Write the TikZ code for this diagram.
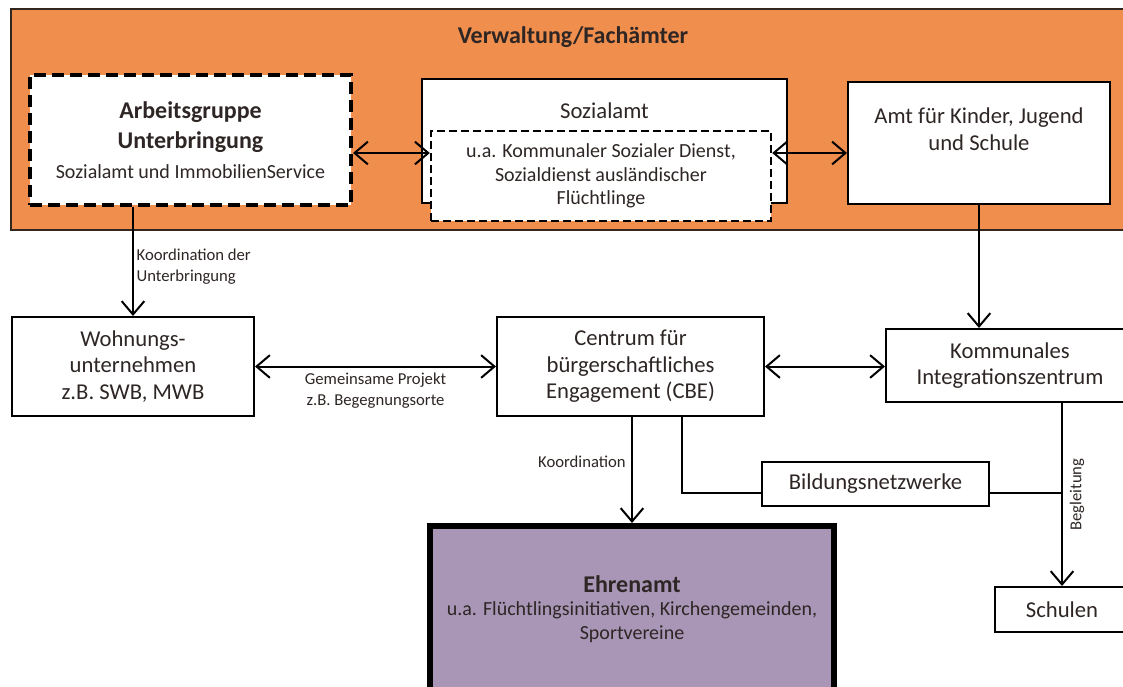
\documentclass[tikz,border=0pt]{standalone}
\usepackage{fontspec}
\setmainfont{Carlito}
\usetikzlibrary{arrows.meta, positioning}
\definecolor{amtorange}{RGB}{240,142,78}
\definecolor{ehrenlila}{RGB}{169,149,181}
\definecolor{rahmen}{RGB}{50,38,30}
\definecolor{schrift}{RGB}{45,38,36}
\newcommand\kopf{\bfseries\fontsize{18}{22.5}\selectfont}
\newcommand\klein{\mdseries\fontsize{15}{17.6}\selectfont}

\begin{document}
\begin{tikzpicture}[x=0.75pt, y=-0.75pt, line width=1.5pt,
    box/.style={draw, rectangle, fill=white, align=center, text=schrift, font=\fontsize{17}{20}\selectfont},
    strichbox/.style={box, dash pattern=on 6pt off 3pt, line width=1.8pt, font=\klein},
    boxtitel/.style={text=schrift, align=center, font=\fontsize{17}{20}\selectfont},
    notiz/.style={text=schrift, align=left, inner sep=2pt, font=\fontsize{12.5}{15.5}\selectfont},
    pfeil/.style={-{Straight Barb[length=10pt, width=17pt]}},
    doppelpfeil/.style={{Straight Barb[length=10pt, width=17pt]}-{Straight Barb[length=10pt, width=17pt]}}]

  % Hintergrund und Rahmen Verwaltung
  \path[use as bounding box, fill=white] (0,0) rectangle (1123,686);
  \node[draw=rahmen, line width=2pt, fill=amtorange, minimum width=843pt, minimum height=165.75pt] (verwaltung) at (573,119.5) {};
  \node[text=schrift, font=\kopf] (titel) at (573,37) {Verwaltung/Fachämter};

  % obere Reihe
  \node[box, font=\kopf, dash pattern=on 9pt off 4.5pt, line width=3pt, minimum width=240.75pt, minimum height=97.5pt] (arbeit) at (190.5,140)
    {Arbeitsgruppe\\Unterbringung\\{\klein Sozialamt und ImmobilienService}};
  \node[box, minimum width=273.75pt, minimum height=93pt] (sozial) at (604.5,141) {};
  \node[boxtitel] (sozialtitel) at (604.5,111) {Sozialamt};
  \node[strichbox, minimum width=255pt, minimum height=67.5pt] (sozialdienst) at (601,176)
    {u.a. Kommunaler Sozialer Dienst,\\Sozialdienst ausländischer\\Flüchtlinge};
  \node[box, minimum width=196.5pt, minimum height=91.5pt] (amt) at (979,143) {};
  \node[boxtitel] (amttext) at (979,129) {Amt für Kinder, Jugend\\und Schule};

  % mittlere Reihe
  \node[box, minimum width=181.5pt, minimum height=74.25pt] (wohnung) at (133,366.5) {Wohnungs-\\unternehmen\\z.B. SWB, MWB};
  \node[box, minimum width=200.25pt, minimum height=74.25pt] (cbe) at (630.5,366.5) {Centrum für\\bürgerschaftliches\\Engagement (CBE)};
  \node[box, minimum width=186pt, minimum height=54.75pt] (kommunal) at (1010,365.5) {Kommunales\\Integrationszentrum};

  % untere Reihe
  \node[box, minimum width=170.25pt, minimum height=33pt] (bildung) at (875.5,484) {Bildungsnetzwerke};
  \node[box, minimum width=100.5pt, minimum height=33.75pt] (schulen) at (1062,609.5) {Schulen};
  \node[box, fill=ehrenlila, line width=4.5pt, font=\klein, minimum width=303pt, minimum height=124.5pt] (ehrenamt) at (632,609)
    {{\kopf Ehrenamt}\\u.a. Flüchtlingsinitiativen, Kirchengemeinden,\\Sportvereine};

  % Verbindungen
  \coordinate (mitte) at (0,153);
  \coordinate (abzweig) at (682,493);
  \draw[doppelpfeil] (arbeit.east |- mitte) -- (sozialdienst.west |- mitte);
  \draw[doppelpfeil] (sozialdienst.east |- mitte) -- (amt.west |- mitte);
  \draw[pfeil] (arbeit.south -| wohnung.north) -- node[notiz, right, pos=0.55] {Koordination der\\Unterbringung} (wohnung.north);
  \draw[pfeil] (amt.south) -- (amt.south |- kommunal.north);
  \draw[doppelpfeil] (wohnung) -- node[notiz, below, align=center, inner sep=4pt] {Gemeinsame Projekt\\z.B. Begegnungsorte} (cbe);
  \draw[doppelpfeil] (cbe.east) -- (kommunal.west |- cbe.east);
  \draw[pfeil] (cbe.south -| ehrenamt.north) -- node[notiz, left, pos=0.42, inner sep=4pt] {Koordination} (ehrenamt.north);
  \draw (cbe.south -| abzweig) |- (bildung.west |- abzweig);
  \draw (bildung.east |- abzweig) -- (schulen.north |- abzweig);
  \draw[pfeil] (schulen.north |- kommunal.south) -- node[notiz, midway, rotate=90, anchor=north, inner sep=5pt] {Begleitung} (schulen.north);
\end{tikzpicture}
\end{document}
